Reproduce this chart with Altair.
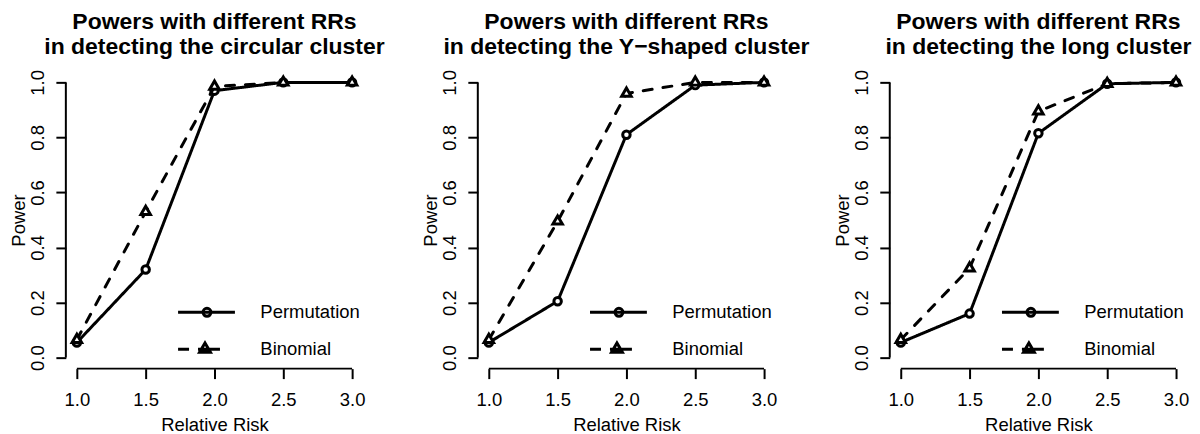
import altair as alt
import pandas as pd

# ---- data ----
rr = [1.0, 1.5, 2.0, 2.5, 3.0]
methods = ["Permutation", "Binomial"]

title_circ = ["Powers with different RRs", " in detecting the circular cluster"]
title_y = ["Powers with different RRs", " in detecting the Y\u2212shaped cluster"]
title_long = ["Powers with different RRs", " in detecting the long cluster"]

circ_perm = [0.055, 0.32, 0.97, 1.0, 1.0]
circ_binom = [0.065, 0.53, 0.985, 1.0, 1.0]
yshape_perm = [0.055, 0.205, 0.81, 0.99, 1.0]
yshape_binom = [0.065, 0.495, 0.96, 1.0, 1.0]
long_perm = [0.055, 0.16, 0.815, 0.995, 1.0]
long_binom = [0.065, 0.325, 0.895, 0.995, 1.0]

x_ticks = [1.0, 1.5, 2.0, 2.5, 3.0]
y_ticks = [0.0, 0.2, 0.4, 0.6, 0.8, 1.0]

x_label = "Relative Risk"
y_label = "Power"

# ---- style ----
FONT = "Liberation Sans"
W = 298
H = 298
LW = 3
DASH = [9, 11]
TRI = "M0,-1L0.866,0.5L-0.866,0.5Z"
PERM_SYM = "M-2.9,0L2.8,0M0.4,0A0.4,0.4,0,1,1,-0.4,0A0.4,0.4,0,1,1,0.4,0Z"
BINOM_SYM = "M-2.9,0L-1.8,0M-0.9,0L1.3,0M-0.2,-0.63L0.346,0.315L-0.746,0.315Z"


def panel(title_lines, perm_vals, binom_vals, ytitle_pad):
    df = pd.DataFrame({
        "rr": rr + rr,
        "power": perm_vals + binom_vals,
        "method": [methods[0]] * len(rr) + [methods[1]] * len(rr),
    })
    xs = alt.Scale(domain=[0.92, 3.08], nice=False, zero=False)
    ys = alt.Scale(domain=[-0.04, 1.04], nice=False, zero=False)
    xenc = alt.X("rr:Q", scale=xs, axis=alt.Axis(
        values=x_ticks, format=".1f", title=x_label, domain=False, grid=False,
        tickSize=10, tickWidth=2, tickColor="black",
        labelFont=FONT, labelFontSize=18.5, labelColor="black", labelPadding=12,
        labelFlush=False, labelOverlap=False,
        titleFont=FONT, titleFontSize=18.5, titleFontWeight="normal", titleColor="black",
        titlePadding=7))
    yenc = alt.Y("power:Q", scale=ys, axis=alt.Axis(
        values=y_ticks, format=".1f", title=y_label, domain=False, grid=False,
        tickSize=10, tickWidth=2, tickColor="black",
        labelFont=FONT, labelFontSize=18.5, labelColor="black", labelPadding=12,
        labelAngle=270, labelAlign="center", labelBaseline="alphabetic",
        labelFlush=False, labelOverlap=False,
        titleFont=FONT, titleFontSize=18.5, titleFontWeight="normal", titleColor="black",
        titlePadding=ytitle_pad))

    base = alt.Chart(df)
    layers = []
    for m, dash, shape, size in [(methods[0], [1, 0], "circle", 56),
                                 (methods[1], DASH, TRI, 120)]:
        sub = base.transform_filter(alt.datum.method == m)
        layers.append(sub.mark_line(color="black", strokeWidth=LW, strokeDash=dash,
                                    strokeCap="round").encode(x=xenc, y=yenc))
        layers.append(sub.mark_point(shape=shape, size=size, filled=True, fill="white",
                                     stroke="black", strokeWidth=3, opacity=1)
                      .encode(x=xenc, y=yenc))

    legend_layer = base.transform_filter("false").mark_point(
        color="black", filled=False, opacity=1, strokeWidth=LW).encode(
        x=xenc, y=yenc,
        shape=alt.Shape("method:N",
                        scale=alt.Scale(domain=methods, range=[PERM_SYM, BINOM_SYM]),
                        legend=alt.Legend(title=None, orient="none", legendX=130, legendY=230,
                                          symbolSize=400, symbolStrokeWidth=LW,
                                          symbolStrokeColor="black",
                                          symbolFillColor="transparent",
                                          labelFont=FONT, labelFontSize=18.5, labelColor="black",
                                          labelOffset=42, rowPadding=14, padding=0,
                                          labelBaseline="middle")))

    xrule = alt.Chart(pd.DataFrame({"a": [x_ticks[0]], "b": [x_ticks[-1]]})).mark_rule(
        color="black", strokeWidth=2).encode(
        x=alt.X("a:Q", scale=xs), x2="b", y=alt.value(H))
    yrule = alt.Chart(pd.DataFrame({"a": [y_ticks[0]], "b": [y_ticks[-1]]})).mark_rule(
        color="black", strokeWidth=2).encode(
        y=alt.Y("a:Q", scale=ys), y2="b", x=alt.value(0))

    return alt.layer(xrule, yrule, *layers, legend_layer).properties(
        width=W, height=H,
        title=alt.TitleParams(text=title_lines, font=FONT, fontSize=23, fontWeight="bold",
                              color="black", anchor="middle", frame="group",
                              lineHeight=25, baseline="bottom", offset=-12),
    )


p1 = panel(title_circ, circ_perm, circ_binom, 0)
p2 = panel(title_y, yshape_perm, yshape_binom, 0)
p3 = panel(title_long, long_perm, long_binom, 0)

chart = alt.hconcat(p1, p2, p3, spacing=115, bounds="flush").resolve_scale(
    shape="independent").resolve_legend(shape="independent").configure_view(
    stroke=None).properties(padding={"left": 2, "top": 2, "right": 0, "bottom": 0},
                            background="white")

chart.save("out.html", embed_options={"renderer": "svg", "actions": False})
